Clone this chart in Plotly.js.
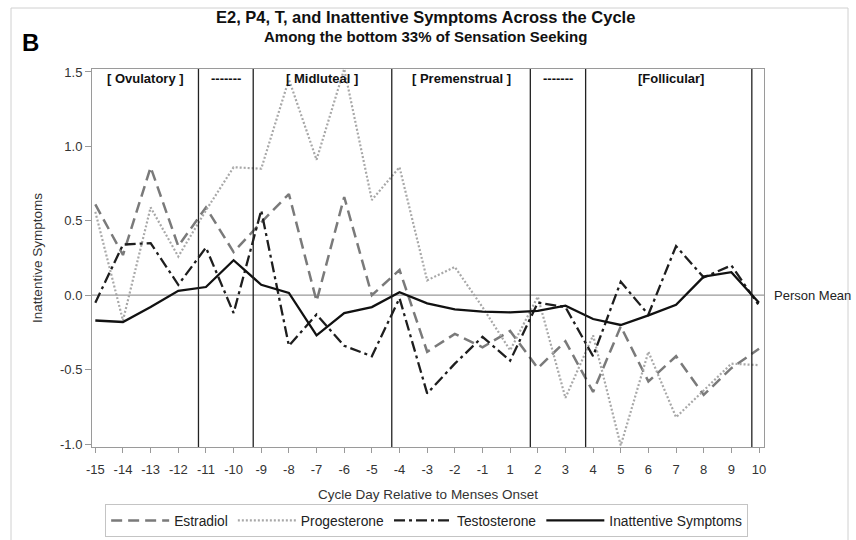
<!DOCTYPE html>
<html>
<head>
<meta charset="utf-8">
<script src="https://cdn.plot.ly/plotly-3.0.1.min.js"></script>
<style>
html,body{margin:0;padding:0;background:#fff;}
#chart{width:856px;height:540px;}
</style>
</head>
<body>
<div id="chart"></div>
<script>
// Cycle days (no day 0)
const days = ["-15","-14","-13","-12","-11","-10","-9","-8","-7","-6","-5","-4","-3","-2","-1","1","2","3","4","5","6","7","8","9","10"];
const estradiol = [0.61, 0.27, 0.86, 0.33, 0.59, 0.29, 0.49, 0.68, -0.04, 0.66, 0.00, 0.17, -0.38, -0.26, -0.35, -0.24, -0.49, -0.31, -0.65, -0.21, -0.58, -0.41, -0.67, -0.49, -0.36];
const progesterone = [0.56, -0.17, 0.59, 0.26, 0.57, 0.86, 0.85, 1.45, 0.91, 1.52, 0.64, 0.86, 0.10, 0.19, -0.08, -0.37, -0.01, -0.69, -0.27, -1.01, -0.38, -0.82, -0.64, -0.46, -0.47];
const testosterone = [-0.05, 0.34, 0.35, 0.07, 0.32, -0.12, 0.57, -0.34, -0.13, -0.34, -0.41, -0.02, -0.66, -0.46, -0.28, -0.44, -0.05, -0.08, -0.41, 0.09, -0.13, 0.33, 0.12, 0.20, -0.07];
const inattentive = [-0.17, -0.18, -0.08, 0.03, 0.055, 0.235, 0.07, 0.015, -0.27, -0.12, -0.08, 0.02, -0.055, -0.095, -0.11, -0.115, -0.105, -0.07, -0.16, -0.20, -0.135, -0.065, 0.125, 0.155, -0.05];
const seriesNames = ["Estradiol", "Progesterone", "Testosterone", "Inattentive Symptoms"];
// Phase boundaries (in category-index units) and phase labels
const phaseBoundaries = [3.73, 5.71, 10.72, 15.73, 17.73, 23.74];
const phaseLabels = ["[ Ovulatory ]", "-------", "[ Midluteal ]", "[ Premenstrual ]", "-------", "[Follicular]"];
const phaseLabelPos = [1.8, 4.73, 8.2, 13.24, 16.74, 20.8];

const FONT = "Liberation Sans, Arial, sans-serif";

const traces = [
  {x: days, y: estradiol, name: seriesNames[0], type: "scatter", mode: "lines",
   line: {color: "#7a7a7a", width: 2.5, dash: "11px,6px"}},
  {x: days, y: progesterone, name: seriesNames[1], type: "scatter", mode: "lines",
   line: {color: "#a8a8a8", width: 2.2, dash: "2px,2px"}},
  {x: days, y: testosterone, name: seriesNames[2], type: "scatter", mode: "lines",
   line: {color: "#1e1e1e", width: 2.3, dash: "11px,4px,3px,4px"}},
  {x: days, y: inattentive, name: seriesNames[3], type: "scatter", mode: "lines",
   line: {color: "#111111", width: 2.3}}
];

const shapes = [
  {type: "line", xref: "paper", yref: "y", x0: 0, x1: 1, y0: 0, y1: 0,
   line: {color: "#9a9a9a", width: 1.2}, layer: "below"}
];
phaseBoundaries.forEach(b => {
  shapes.push({type: "line", xref: "x", yref: "paper", x0: b, x1: b, y0: 0, y1: 1,
    line: {color: "#222", width: 1.3}});
});
// outer frame
shapes.push({type: "rect", xref: "paper", yref: "paper",
  x0: -81/672, x1: 756/672, y0: -100/378, y1: 439/378,
  line: {color: "#d0d0d0", width: 1}});

const annotations = [];
phaseLabels.forEach((t, i) => {
  annotations.push({x: phaseLabelPos[i], xref: "x", y: 0.974, yref: "paper",
    text: "<b>" + t + "</b>", showarrow: false, xanchor: "center", yanchor: "middle",
    font: {family: FONT, size: 13, color: "#111"}});
});
annotations.push({x: 1.012, xref: "paper", y: 0, yref: "y", text: "Person Mean",
  showarrow: false, xanchor: "left", yanchor: "middle",
  font: {family: FONT, size: 13, color: "#222"}});
annotations.push({x: -62/672, xref: "paper", y: 1 + 27/378, yref: "paper", text: "<b>B</b>",
  showarrow: false, xanchor: "center", yanchor: "middle",
  font: {family: FONT, size: 24, color: "#000"}});
annotations.push({x: 0.497, xref: "paper", y: 1 + 52/378, yref: "paper",
  text: "<b>E2, P4, T, and Inattentive Symptoms Across the Cycle</b>",
  showarrow: false, xanchor: "center", yanchor: "middle",
  font: {family: FONT, size: 16.5, color: "#111"}});
annotations.push({x: 0.497, xref: "paper", y: 1 + 33/378, yref: "paper",
  text: "<b>Among the bottom 33% of Sensation Seeking</b>",
  showarrow: false, xanchor: "center", yanchor: "middle",
  font: {family: FONT, size: 15, color: "#111"}});

const layout = {
  width: 856, height: 540,
  margin: {l: 92, r: 92, t: 69, b: 93, autoexpand: false},
  paper_bgcolor: "#fff", plot_bgcolor: "#fff",
  font: {family: FONT, size: 13, color: "#333"},
  showlegend: true,
  legend: {orientation: "h", x: 0.498, xanchor: "center", y: -57/378, yanchor: "top",
    bordercolor: "#c4c4c4", borderwidth: 1, font: {family: FONT, size: 13.8, color: "#222"},
    itemwidth: 58, tracegroupgap: 0},
  xaxis: {type: "category", range: [-0.12, 24.18], showgrid: false, zeroline: false,
    showline: true, linecolor: "#9a9a9a", linewidth: 1, mirror: true,
    ticks: "outside", ticklen: 5, tickcolor: "#9a9a9a", ticklabelstandoff: 5,
    tickfont: {family: FONT, size: 13, color: "#333"},
    title: {text: "Cycle Day Relative to Menses Onset", standoff: 13,
      font: {family: FONT, size: 13.5, color: "#333"}}},
  yaxis: {range: [-1.02, 1.52], tickvals: [-1, -0.5, 0, 0.5, 1, 1.5],
    ticktext: ["-1.0", "-0.5", "0.0", "0.5", "1.0", "1.5"],
    showgrid: false, zeroline: false, showline: true, linecolor: "#9a9a9a", linewidth: 1, mirror: true,
    ticks: "outside", ticklen: 6, tickcolor: "#9a9a9a",
    tickfont: {family: FONT, size: 13, color: "#333"},
    title: {text: "Inattentive Symptoms", standoff: 14,
      font: {family: FONT, size: 13.5, color: "#333"}}},
  shapes: shapes,
  annotations: annotations
};

Plotly.newPlot("chart", traces, layout, {displayModeBar: false, staticPlot: true});
</script>
</body>
</html>
